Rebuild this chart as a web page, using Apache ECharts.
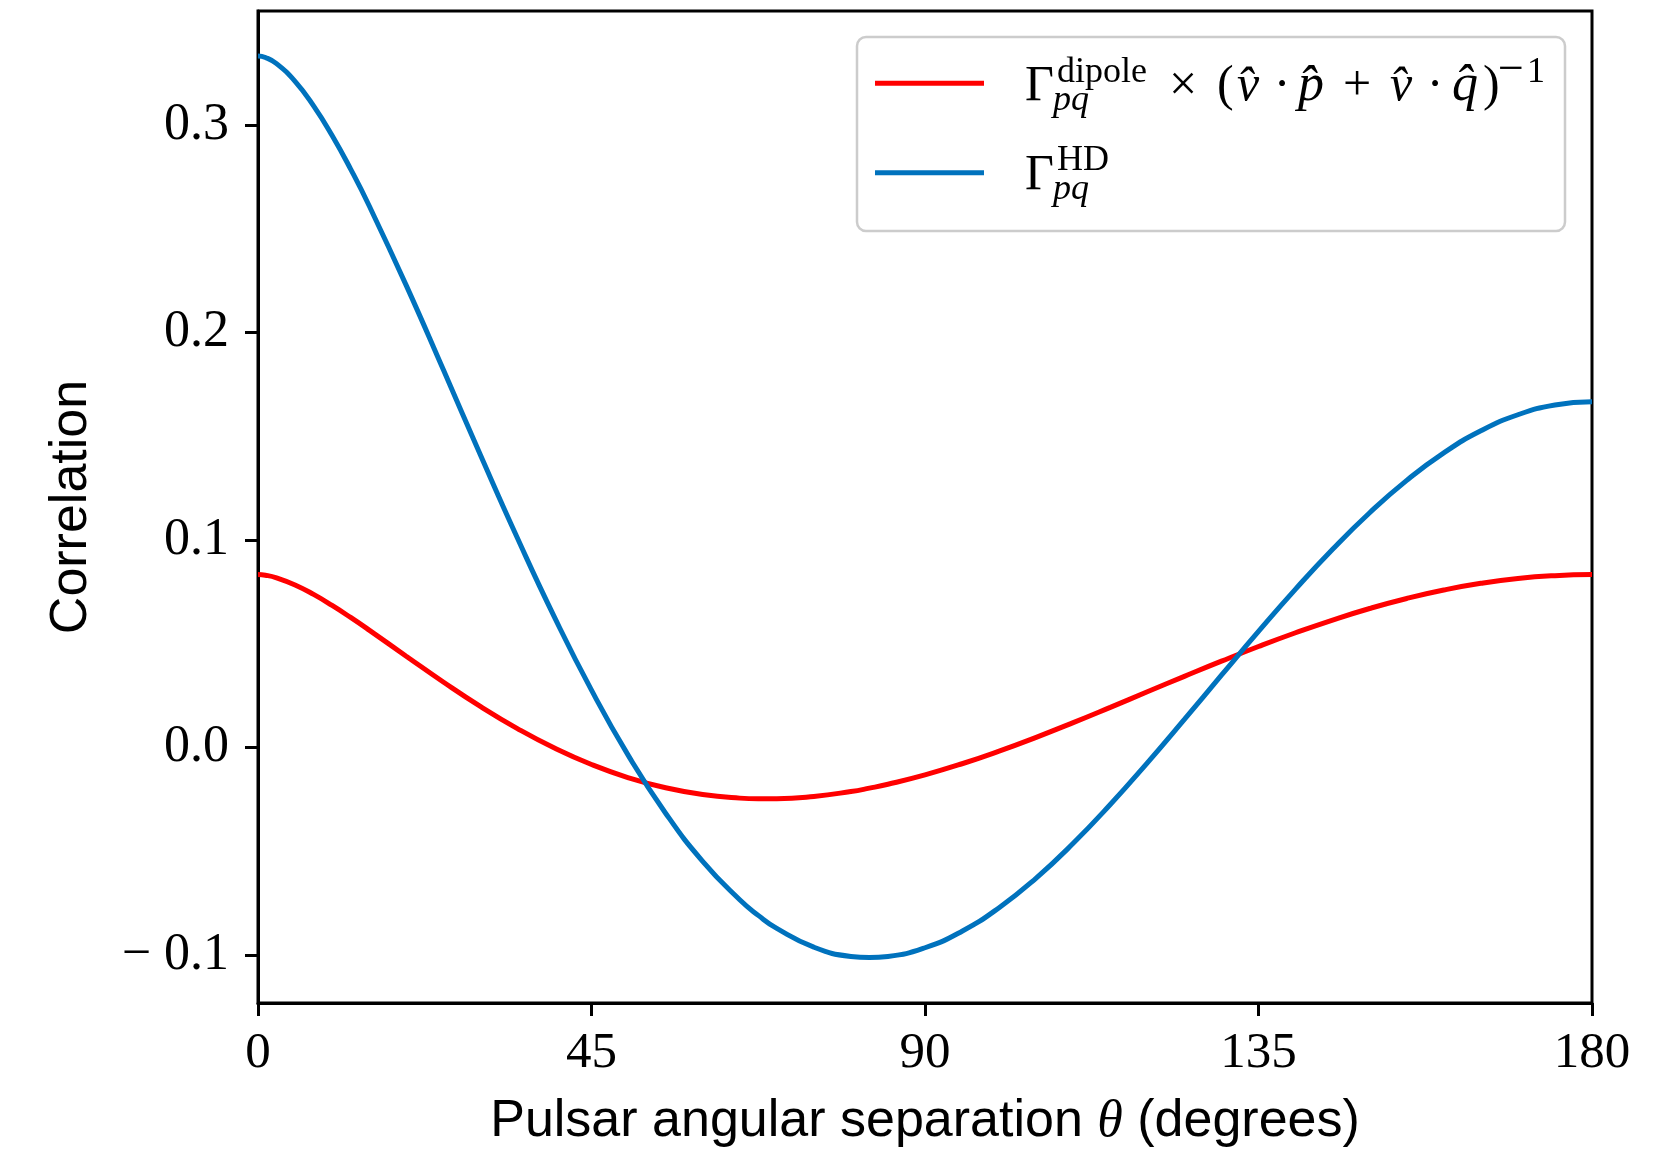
<!DOCTYPE html>
<html>
<head>
<meta charset="utf-8">
<script src="https://cdn.jsdelivr.net/npm/echarts@6/dist/echarts.min.js"></script>
<style>
html,body{margin:0;padding:0;background:#ffffff;}
#chart{width:1665px;height:1153px;}
</style>
</head>
<body>
<div id="chart"></div>
<script>
// ---- data ----
const theta = [0,1,2.5,5,7.5,10,12.5,15,20,25,30,35,40,45,50,55,60,65,67.5,70,75,80,82.5,85,90,95,100,105,110,115,120,125,130,135,140,145,150,155,160,165,170,175,180];
const hdValues = [0.33333,0.33260,0.32961,0.32110,0.30929,0.29500,0.27879,0.26111,0.22273,0.18213,0.14108,0.10095,0.06281,0.02760,-0.00408,-0.03170,-0.05491,-0.07345,-0.08095,-0.08724,-0.09630,-0.10074,-0.10127,-0.10074,-0.09657,-0.08861,-0.07725,-0.06297,-0.04622,-0.02753,-0.00743,0.01352,0.03482,0.05591,0.07631,0.09553,0.11314,0.12874,0.14200,0.15262,0.16037,0.16508,0.16667];
const dipoleValues = [0.08333,0.08301,0.08175,0.07831,0.07376,0.06845,0.06266,0.05656,0.04398,0.03154,0.01978,0.00908,-0.00032,-0.00824,-0.01464,-0.01946,-0.02272,-0.02444,-0.02475,-0.02471,-0.02361,-0.02126,-0.01963,-0.01776,-0.01324,-0.00787,-0.00177,0.00488,0.01195,0.01932,0.02681,0.03426,0.04158,0.04864,0.05528,0.06142,0.06698,0.07181,0.07587,0.07910,0.08144,0.08280,0.08333];
const xTicks = [0,45,90,135,180];
const yTicks = [-0.1,0.0,0.1,0.2,0.3];
const yTickLabels = ['\u2212 0.1','0.0','0.1','0.2','0.3'];
const seriesNames = ['\u0393pq dipole \u00d7 (v\u0302\u00b7p\u0302 + v\u0302\u00b7q\u0302)\u207b\u00b9','\u0393pq HD'];
const xAxisTitle = 'Pulsar angular separation \u03b8 (degrees)';
const yAxisTitle = 'Correlation';

const RED = '#ff0000';
const BLUE = '#0072bd';
const SERIF = '"Liberation Serif", "DejaVu Serif", serif';
const SANS = '"Liberation Sans", "DejaVu Sans", sans-serif';

const dipoleData = theta.map((t,i)=>[t, dipoleValues[i]]);
const hdData = theta.map((t,i)=>[t, hdValues[i]]);

// legend drawn as text pieces (math layout); y given as baseline
function txt(text, x, base, size, italic, align){
  return {type:'text', z:101, style:{text:text, x:x, y:base - 0.305*size, fill:'#000',
    font:(italic?'italic ':'') + size + 'px ' + SERIF,
    textAlign: align || 'left', textVerticalAlign:'middle', verticalAlign:'middle'}};
}
const S = 50, s = 36;
const b1 = 102.5, b1sup = 83.3, b1sub = 112;
const b2 = 191.5, b2sup = 171.7, b2sub = 200.5;
const legendGraphics = [
  {type:'rect', z:100, shape:{x:857, y:37, width:708, height:194, r:9},
   style:{fill:'rgba(255,255,255,0.8)', stroke:'#cccccc', lineWidth:2.5}},
  {type:'line', z:101, shape:{x1:875, y1:83.3, x2:984, y2:83.3}, style:{stroke:RED, lineWidth:5}},
  {type:'line', z:101, shape:{x1:875, y1:172.7, x2:984, y2:172.7}, style:{stroke:BLUE, lineWidth:5}},
  txt('\u0393', 1025, b1, S, false),
  txt('dipole', 1057, b1sup, s, false),
  txt('pq', 1053, b1sub, s, true),
  txt('\u00d7', 1183, b1, S, false, 'center'),
  txt('(', 1217, b1, S, false),
  txt('v\u0302', 1237, b1, S, true),
  txt('\u00b7', 1282, b1, S, false, 'center'),
  txt('p\u0302', 1298, b1, 52, true),
  txt('+', 1357, b1, S, false, 'center'),
  txt('v\u0302', 1390, b1, S, true),
  txt('\u00b7', 1435, b1, S, false, 'center'),
  txt('q\u0302', 1452, b1, 52, true),
  txt(')', 1483, b1, S, false),
  txt('\u2212', 1511, b1sup + 2, 46, false, 'center'),
  txt('1', 1527, b1sup, s, false),
  txt('\u0393', 1025, b2, S, false),
  txt('HD', 1057, b2sup, s, false),
  txt('pq', 1053, b2sub, s, true)
];

const chart = echarts.init(document.getElementById('chart'), null, {renderer:'canvas'});
const option = {
  animation:false,
  backgroundColor:'#ffffff',
  grid:{left:258, right:73, top:11, bottom:150, show:true, borderColor:'#000', borderWidth:3, backgroundColor:'transparent'},
  xAxis:{
    type:'value', min:xTicks[0], max:xTicks[xTicks.length-1], interval:45,
    axisLine:{show:true, onZero:false, lineStyle:{color:'#000', width:3}},
    axisTick:{show:true, length:13, lineStyle:{color:'#000', width:3}},
    axisLabel:{margin:25, color:'#000', fontFamily:SERIF, fontSize:51},
    splitLine:{show:false},
    name:'{a|Pulsar angular separation }{t|\u03b8}{a| (degrees)}',
    nameLocation:'middle', nameGap:93,
    nameTextStyle:{color:'#000', fontSize:52, fontFamily:SANS,
      rich:{a:{fontSize:52, fontFamily:SANS, color:'#000'}, t:{fontSize:52, fontFamily:SERIF, fontStyle:'italic', color:'#000'}}}
  },
  yAxis:{
    type:'value', min:-0.1232, max:0.355,
    axisLine:{show:true, onZero:false, lineStyle:{color:'#000', width:3}},
    axisTick:{show:true, length:13, customValues:yTicks, lineStyle:{color:'#000', width:3}},
    axisLabel:{show:true, margin:29, customValues:yTicks, color:'#000', fontFamily:SERIF, fontSize:52, padding:[6,0,0,0],
      formatter:function(v){ const i = yTicks.findIndex(t=>Math.abs(t-v)<1e-6); return i>=0 ? yTickLabels[i] : ''; }},
    splitLine:{show:false},
    name:yAxisTitle, nameLocation:'middle', nameGap:160, nameRotate:90,
    nameTextStyle:{color:'#000', fontSize:52, fontFamily:SANS}
  },
  legend:{show:false, data:seriesNames},
  series:[
    {name:seriesNames[0], type:'line', data:dipoleData, showSymbol:false, smooth:true,
     lineStyle:{color:RED, width:5}, itemStyle:{color:RED}, z:2},
    {name:seriesNames[1], type:'line', data:hdData, showSymbol:false, smooth:true,
     lineStyle:{color:BLUE, width:5}, itemStyle:{color:BLUE}, z:3}
  ],
  graphic:legendGraphics
};
chart.setOption(option);
</script>
</body>
</html>
